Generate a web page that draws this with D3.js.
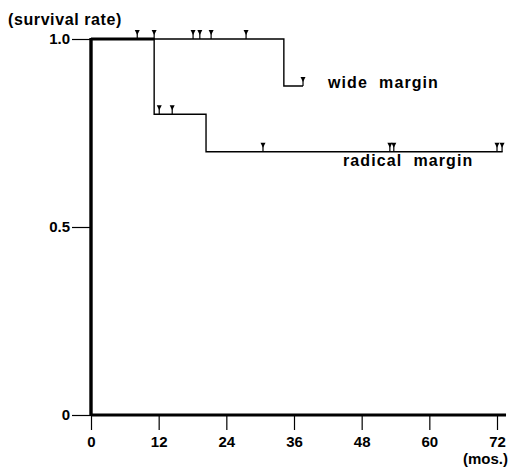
<!DOCTYPE html>
<html>
<head>
<meta charset="utf-8">
<script src="https://cdn.jsdelivr.net/npm/d3@7"></script>
<style>
  body { margin: 0; background: #fff; }
  text { font-family: "Liberation Sans", Arial, sans-serif; font-weight: bold; fill: #000; }
</style>
</head>
<body>
<svg id="chart"></svg>
<script>
// Kaplan-Meier steps (months, survival)
const wideSteps = [[0, 1.0], [34.2, 0.875]];
const wideEnd = 37.6;
const wideCensored = [8.2, 11.2, 18.1, 19.3, 21.3, 27.5, 37.6];

const radicalSteps = [[0, 1.0], [11.2, 0.8], [20.4, 0.7]];
const radicalEnd = 73.0;
const radicalCensored = [12.1, 14.4, 30.5, 53.0, 53.7, 72.0, 72.9];

const xTicks = [0, 12, 24, 36, 48, 60, 72];
const yTicks = [0, 0.5, 1.0];
const yTickLabels = ["0", "0.5", "1.0"];

const width = 527;
const height = 468;

const svg = d3.select("#chart")
    .attr("width", width)
    .attr("height", height);

const x = d3.scaleLinear().domain([0, 72]).range([91, 497]);
const y = d3.scaleLinear().domain([0, 1]).range([415, 39]);

// x axis ticks
const xAxis = svg.append("g")
    .attr("transform", `translate(0, ${y(0)})`)
    .call(d3.axisBottom(x).tickValues(xTicks).tickSize(15).tickSizeOuter(0).tickPadding(6));
xAxis.select(".domain").remove();
xAxis.selectAll(".tick line").attr("stroke", "#000").attr("stroke-width", 1.2);
xAxis.selectAll(".tick text")
    .attr("font-size", 15)
    .attr("font-family", null);

// y axis ticks
const yAxis = svg.append("g")
    .attr("transform", `translate(${x(0)}, 0)`)
    .call(d3.axisLeft(y).tickValues(yTicks).tickSize(19).tickSizeOuter(0).tickPadding(2)
        .tickFormat((d, i) => yTickLabels[i]));
yAxis.select(".domain").remove();
yAxis.selectAll(".tick line").attr("stroke", "#000").attr("stroke-width", 1.2);
yAxis.selectAll(".tick text")
    .attr("font-size", 15)
    .attr("font-family", null);

// thick axis lines
svg.append("line")
    .attr("x1", x(0)).attr("x2", x(73.6))
    .attr("y1", y(0)).attr("y2", y(0))
    .attr("stroke", "#000").attr("stroke-width", 3.2);
svg.append("line")
    .attr("x1", x(0)).attr("x2", x(0))
    .attr("y1", y(0)).attr("y2", y(1) - 1)
    .attr("stroke", "#000").attr("stroke-width", 3.4);

// survival curves
const line = d3.line()
    .x(d => x(d[0]))
    .y(d => y(d[1]))
    .curve(d3.curveStepAfter);

function drawCurve(steps, end) {
    const pts = steps.concat([[end, steps[steps.length - 1][1]]]);
    svg.append("path")
        .attr("d", line(pts))
        .attr("fill", "none")
        .attr("stroke", "#000")
        .attr("stroke-width", 1.4);
}
drawCurve(wideSteps, wideEnd);
drawCurve(radicalSteps, radicalEnd);

// shared start of both curves looks heavier
svg.append("line")
    .attr("x1", x(0)).attr("x2", x(radicalSteps[1][0]))
    .attr("y1", y(1)).attr("y2", y(1))
    .attr("stroke", "#000").attr("stroke-width", 3);

// censor marks: small down-pointing triangle on a stem
function survivalAt(steps, t) {
    let s = steps[0][1];
    steps.forEach(d => { if (t >= d[0]) s = d[1]; });
    return s;
}
function drawCensors(times, steps) {
    const g = svg.append("g");
    times.forEach(t => {
        const cx = x(t);
        const cy = y(survivalAt(steps, t));
        g.append("path")
            .attr("d", `M${cx - 2.5},${cy - 9} L${cx + 2.5},${cy - 9} L${cx},${cy - 4} Z`)
            .attr("fill", "#000");
        g.append("line")
            .attr("x1", cx).attr("x2", cx)
            .attr("y1", cy - 6).attr("y2", cy)
            .attr("stroke", "#000").attr("stroke-width", 1.2);
    });
}
// marks before the first drop sit on the common 1.0 line
drawCensors(wideCensored, wideSteps);
drawCensors(radicalCensored, radicalSteps);

// labels
svg.append("text")
    .attr("x", 8).attr("y", 25)
    .attr("font-size", 16)
    .attr("letter-spacing", 0.6)
    .text("(survival rate)");

svg.append("text")
    .attr("x", 508).attr("y", 464)
    .attr("text-anchor", "end")
    .attr("font-size", 15)
    .text("(mos.)");

svg.append("text")
    .attr("x", 328).attr("y", 88)
    .attr("font-size", 16)
    .attr("letter-spacing", 1.1)
    .style("white-space", "pre")
    .text("wide  margin");

svg.append("text")
    .attr("x", 343).attr("y", 166)
    .attr("font-size", 16)
    .attr("letter-spacing", 1.1)
    .style("white-space", "pre")
    .text("radical  margin");
</script>
</body>
</html>
